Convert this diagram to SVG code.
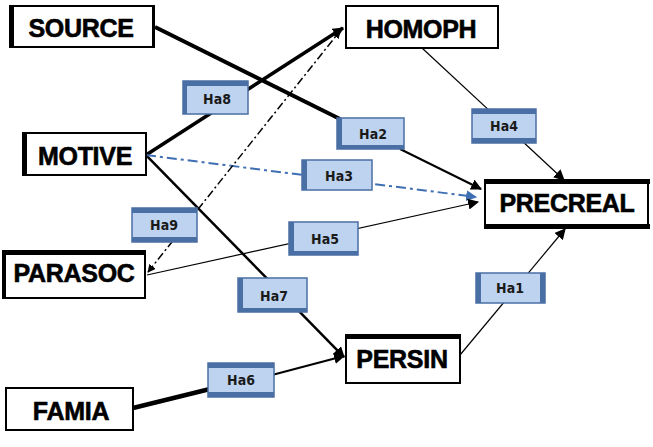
<svg xmlns="http://www.w3.org/2000/svg" width="653" height="447" viewBox="0 0 653 447">
  <defs>
    <marker id="arr" viewBox="0 0 10 10" refX="9" refY="5" markerWidth="11" markerHeight="11" markerUnits="userSpaceOnUse" orient="auto">
      <path d="M0,0 L10,5 L0,10 Z" fill="#000"/>
    </marker>
    <marker id="arrS" viewBox="0 0 10 10" refX="9" refY="5" markerWidth="8" markerHeight="8" markerUnits="userSpaceOnUse" orient="auto-start-reverse">
      <path d="M0,0 L10,5 L0,10 Z" fill="#000"/>
    </marker>
    <marker id="arrB" viewBox="0 0 10 10" refX="9" refY="5" markerWidth="11" markerHeight="11" markerUnits="userSpaceOnUse" orient="auto">
      <path d="M0,0 L10,5 L0,10 Z" fill="#3f6fb3"/>
    </marker>
  </defs>
  <style>
    .box { fill: #fff; stroke: #000; stroke-width: 2; }
    .band { fill: #000; }
    .ntxt { font-family: "Liberation Sans", Arial, sans-serif; font-weight: bold; font-size: 25px; fill: #000; stroke: #000; stroke-width: 0.6px; text-anchor: middle; letter-spacing: -0.3px; }
    .lab { fill: #bdd3ef; stroke: #4a6fa5; stroke-width: 1.5; }
    .lband { fill: #4a6fa5; }
    .ltxt { font-family: "DejaVu Sans Condensed", "DejaVu Sans", sans-serif; font-weight: bold; font-size: 14px; fill: #1a1a1a; text-anchor: middle; }
    .c { fill: none; stroke: #000; }
    .cb { fill: none; stroke: #3f6fb3; }
  </style>

  <!-- paths between constructs -->
  <g id="connectors">
    <!-- SOURCE -> PRECREAL (Ha2) -->
    <line class="c" x1="155" y1="27" x2="340" y2="119" stroke-width="4"/>
    <line class="c" x1="400" y1="149" x2="481" y2="189" stroke-width="2" marker-end="url(#arr)"/>
    <!-- MOTIVE -> HOMOPH (Ha8) -->
    <line class="c" x1="146" y1="155" x2="343" y2="28" stroke-width="3.5" marker-end="url(#arr)"/>
    <!-- MOTIVE -> PERSIN (Ha7) -->
    <line class="c" x1="146" y1="155" x2="344" y2="357" stroke-width="2.5" marker-end="url(#arr)"/>
    <!-- MOTIVE -> PRECREAL (Ha3) -->
    <line class="cb" x1="146" y1="155" x2="476" y2="197" stroke-width="2" stroke-dasharray="10 4 3 4" marker-end="url(#arrB)"/>
    <!-- PARASOC <-> HOMOPH (Ha9) -->
    <line class="c" x1="148" y1="272" x2="340" y2="31" stroke-width="1.5" stroke-dasharray="8 3 2 3" marker-start="url(#arrS)" marker-end="url(#arrS)"/>
    <!-- PARASOC -> PRECREAL (Ha5) -->
    <line class="c" x1="147" y1="275" x2="478" y2="202" stroke-width="1.2" marker-end="url(#arr)"/>
    <!-- FAMIA -> PERSIN (Ha6) -->
    <line class="c" x1="133" y1="408" x2="210" y2="389" stroke-width="4.5"/>
    <line class="c" x1="272" y1="375" x2="344" y2="356" stroke-width="2" marker-end="url(#arr)"/>
    <!-- HOMOPH -> PRECREAL (Ha4) -->
    <line class="c" x1="422" y1="48" x2="564" y2="180" stroke-width="1.2" marker-end="url(#arr)"/>
    <!-- PERSIN -> PRECREAL (Ha1) -->
    <line class="c" x1="460" y1="355" x2="565" y2="229" stroke-width="1.2" marker-end="url(#arr)"/>
  </g>

  <!-- constructs -->
  <g id="SOURCE">
    <rect class="box" x="11" y="6" width="143" height="41"/>
    <rect class="band" x="9" y="5" width="5" height="43"/>
    <rect class="band" x="152" y="5" width="3" height="43"/>
    <text class="ntxt" x="81" y="37">SOURCE</text>
  </g>
  <g id="HOMOPH">
    <rect class="box" x="346" y="6" width="152" height="42"/>
    <text class="ntxt" x="421" y="38">HOMOPH</text>
  </g>
  <g id="MOTIVE">
    <rect class="box" x="24" y="133" width="122" height="42"/>
    <rect class="band" x="22" y="132" width="5" height="44"/>
    <text class="ntxt" x="85" y="165">MOTIVE</text>
  </g>
  <g id="PARASOC">
    <rect class="box" x="4" y="252" width="141" height="46"/>
    <rect class="band" x="2" y="250" width="144" height="5"/>
    <rect class="band" x="2" y="250" width="4" height="49"/>
    <text class="ntxt" x="74" y="282">PARASOC</text>
  </g>
  <g id="PRECREAL">
    <rect class="box" x="485" y="181" width="163" height="46"/>
    <rect class="band" x="484" y="179" width="166" height="5"/>
    <rect class="band" x="484" y="224" width="166" height="5"/>
    <text class="ntxt" x="567" y="212">PRECREAL</text>
  </g>
  <g id="FAMIA">
    <rect class="box" x="6" y="388" width="127" height="42"/>
    <text class="ntxt" x="71" y="420">FAMIA</text>
  </g>
  <g id="PERSIN">
    <rect class="box" x="346" y="336" width="114" height="47"/>
    <rect class="band" x="345" y="334" width="116" height="5"/>
    <text class="ntxt" x="402" y="368">PERSIN</text>
  </g>

  <!-- path labels -->
  <g id="Ha8">
    <rect class="lab" x="183" y="81" width="65" height="33"/>
    <rect class="lband" x="183" y="81" width="65" height="5"/>
    <rect class="lband" x="183" y="81" width="4" height="33"/>
    <text class="ltxt" x="217" y="104">Ha8</text>
  </g>
  <g id="Ha2">
    <rect class="lab" x="337" y="118" width="67" height="31"/>
    <rect class="lband" x="337" y="118" width="5" height="31"/>
    <rect class="lband" x="337" y="145" width="67" height="4"/>
    <text class="ltxt" x="373" y="139">Ha2</text>
  </g>
  <g id="Ha3">
    <rect class="lab" x="302" y="160" width="70" height="30"/>
    <rect class="lband" x="302" y="160" width="5" height="30"/>
    <text class="ltxt" x="339" y="181">Ha3</text>
  </g>
  <g id="Ha9">
    <rect class="lab" x="132" y="208" width="65" height="34"/>
    <rect class="lband" x="132" y="208" width="65" height="5"/>
    <rect class="lband" x="132" y="237" width="65" height="5"/>
    <text class="ltxt" x="164" y="230">Ha9</text>
  </g>
  <g id="Ha5">
    <rect class="lab" x="289" y="222" width="69" height="33"/>
    <rect class="lband" x="289" y="222" width="5" height="33"/>
    <rect class="lband" x="289" y="251" width="69" height="4"/>
    <text class="ltxt" x="325" y="244">Ha5</text>
  </g>
  <g id="Ha7">
    <rect class="lab" x="238" y="278" width="69" height="34"/>
    <rect class="lband" x="238" y="278" width="5" height="34"/>
    <rect class="lband" x="238" y="308" width="69" height="4"/>
    <text class="ltxt" x="274" y="301">Ha7</text>
  </g>
  <g id="Ha4">
    <rect class="lab" x="472" y="109" width="64" height="34"/>
    <rect class="lband" x="472" y="109" width="64" height="5"/>
    <rect class="lband" x="472" y="138" width="64" height="5"/>
    <text class="ltxt" x="504" y="131">Ha4</text>
  </g>
  <g id="Ha6">
    <rect class="lab" x="208" y="363" width="66" height="34"/>
    <rect class="lband" x="208" y="363" width="66" height="5"/>
    <rect class="lband" x="208" y="392" width="66" height="5"/>
    <text class="ltxt" x="241" y="385">Ha6</text>
  </g>
  <g id="Ha1">
    <rect class="lab" x="476" y="273" width="69" height="30"/>
    <rect class="lband" x="476" y="273" width="5" height="30"/>
    <rect class="lband" x="540" y="273" width="5" height="30"/>
    <text class="ltxt" x="510" y="293">Ha1</text>
  </g>
</svg>
